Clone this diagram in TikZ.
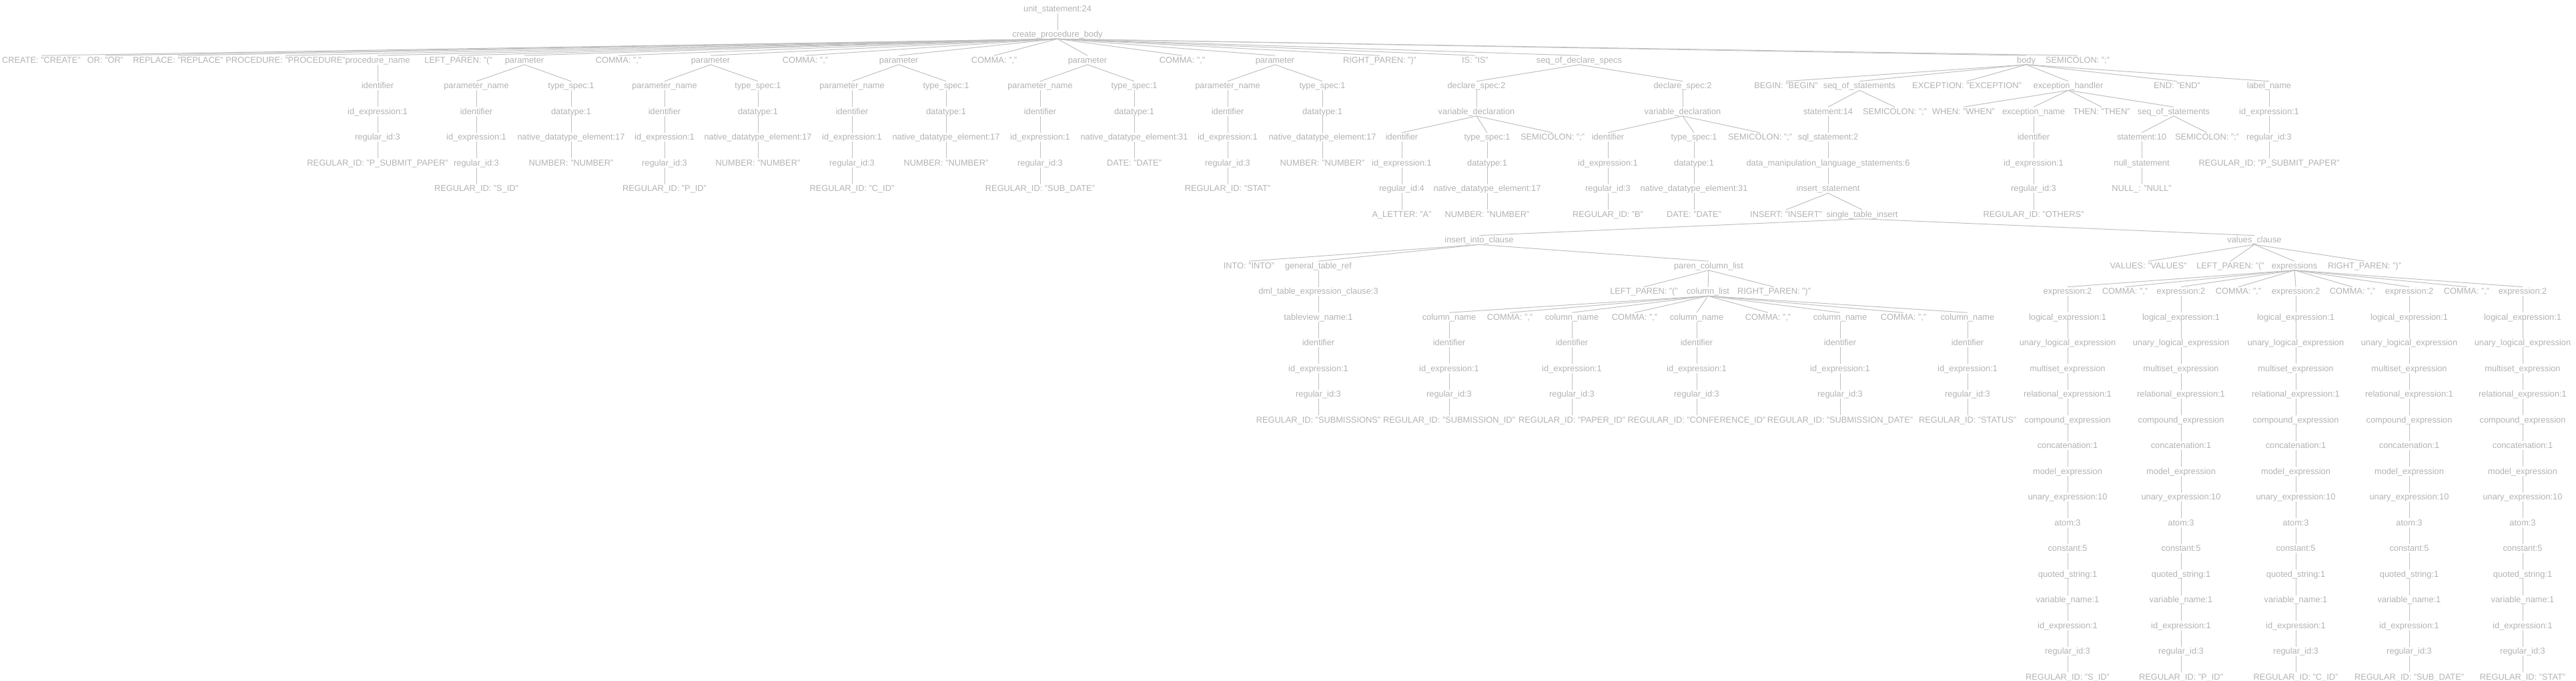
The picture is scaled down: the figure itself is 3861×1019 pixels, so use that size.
\documentclass[tikz,border=0pt]{standalone}
\usepackage{fontspec}
\setmainfont{Liberation Sans}
\usetikzlibrary{positioning}
\definecolor{TreeGray}{RGB}{178,178,178}
\definecolor{EdgeGray}{RGB}{192,192,192}
\tikzset{
  tok/.style={anchor=base, text=TreeGray, font=\fontsize{6.4}{7.7}\selectfont,
    inner xsep=0pt, inner ysep=0.6pt, text height=4.6pt, text depth=0.6pt},
  link/.style={draw=EdgeGray, line width=0.5pt}
}
% one tree node: name, x (px), level, text
\newcommand{\tnd}[4]{\node[tok] (#1) at (#2,{17+38.5*#3}) {#4};}

\begin{document}
\begin{tikzpicture}[x=0.5pt, y=-0.5pt]
\useasboundingbox (0,0) rectangle (3861,1019);

% top
\tnd{root}{1585}{0}{unit\_statement:24}
\tnd{cpb}{1585}{1}{create\_procedure\_body}
\tnd{kcreate}{62}{2}{CREATE: "CREATE"}
\tnd{kor}{158}{2}{OR: "OR"}
\tnd{krepl}{267}{2}{REPLACE: "REPLACE"}
\tnd{kproc}{428}{2}{PROCEDURE: "PROCEDURE"}
\tnd{pname}{566}{2}{procedure\_name}
\tnd{lpar}{687}{2}{LEFT\_PAREN: "("}
\tnd{parA}{786}{2}{parameter}
\tnd{cmA}{927}{2}{COMMA: ","}
\tnd{parB}{1065}{2}{parameter}
\tnd{cmB}{1207}{2}{COMMA: ","}
\tnd{parC}{1347}{2}{parameter}
\tnd{cmC}{1490}{2}{COMMA: ","}
\tnd{parD}{1630}{2}{parameter}
\tnd{cmD}{1772}{2}{COMMA: ","}
\tnd{parE}{1911}{2}{parameter}
\tnd{rpar}{2068}{2}{RIGHT\_PAREN: ")"}
\tnd{kis}{2211}{2}{IS: "IS"}
\tnd{decls}{2367}{2}{seq\_of\_declare\_specs}
\tnd{body}{3037}{2}{body}
\tnd{semi}{3114}{2}{SEMICOLON: ";"}

% procedure name
\tnd{pnid}{566}{3}{identifier}
\tnd{pnide}{566}{4}{id\_expression:1}
\tnd{pnrid}{566}{5}{regular\_id:3}
\tnd{pnreg}{566}{6}{REGULAR\_ID: "P\_SUBMIT\_PAPER"}

% parameters
\foreach \p/\xa/\xb/\nde/\ty/\rid in {A/714/856/17/NUMBER/S\_ID, B/996/1136/17/NUMBER/P\_ID,
    C/1277/1418/17/NUMBER/C\_ID, D/1559/1700/31/DATE/SUB\_DATE, E/1840/1982/17/NUMBER/STAT}{
  \tnd{pn\p}{\xa}{3}{parameter\_name}
  \tnd{id\p}{\xa}{4}{identifier}
  \tnd{ide\p}{\xa}{5}{id\_expression:1}
  \tnd{rid\p}{\xa}{6}{regular\_id:3}
  \tnd{reg\p}{\xa}{7}{REGULAR\_ID: "\rid"}
  \tnd{ts\p}{\xb}{3}{type\_spec:1}
  \tnd{dt\p}{\xb}{4}{datatype:1}
  \tnd{nd\p}{\xb}{5}{native\_datatype\_element:\nde}
  \tnd{num\p}{\xb}{6}{\ty: "\ty"}
  \foreach \a/\b in {par\p/pn\p, par\p/ts\p, pn\p/id\p, id\p/ide\p, ide\p/rid\p, rid\p/reg\p,
      ts\p/dt\p, dt\p/nd\p, nd\p/num\p}
    \draw[link] (\a.south) -- (\b.north);
}

% declarations
\tnd{dsA}{2213}{3}{declare\_spec:2}
\tnd{dsB}{2522}{3}{declare\_spec:2}
\tnd{vdA}{2213}{4}{variable\_declaration}
\tnd{vdB}{2522}{4}{variable\_declaration}
\tnd{vidA}{2101}{5}{identifier}
\tnd{vtsA}{2229}{5}{type\_spec:1}
\tnd{vsemiA}{2327}{5}{SEMICOLON: ";"}
\tnd{vidB}{2410}{5}{identifier}
\tnd{vtsB}{2539}{5}{type\_spec:1}
\tnd{vsemiB}{2638}{5}{SEMICOLON: ";"}
\tnd{videA}{2101}{6}{id\_expression:1}
\tnd{vdtA}{2229}{6}{datatype:1}
\tnd{videB}{2410}{6}{id\_expression:1}
\tnd{vdtB}{2539}{6}{datatype:1}
\tnd{vridA}{2101}{7}{regular\_id:4}
\tnd{vndA}{2229}{7}{native\_datatype\_element:17}
\tnd{vridB}{2410}{7}{regular\_id:3}
\tnd{vndB}{2539}{7}{native\_datatype\_element:31}
\tnd{aletter}{2101}{8}{A\_LETTER: "A"}
\tnd{vnumA}{2229}{8}{NUMBER: "NUMBER"}
\tnd{regB}{2410}{8}{REGULAR\_ID: "B"}
\tnd{vdate}{2539}{8}{DATE: "DATE"}

% body
\tnd{kbegin}{2677}{3}{BEGIN: "BEGIN"}
\tnd{sos}{2787}{3}{seq\_of\_statements}
\tnd{kexc}{2948}{3}{EXCEPTION: "EXCEPTION"}
\tnd{exh}{3100}{3}{exception\_handler}
\tnd{kend}{3263}{3}{END: "END"}
\tnd{lname}{3401}{3}{label\_name}
\tnd{stA}{2740}{4}{statement:14}
\tnd{sosSemi}{2840}{4}{SEMICOLON: ";"}
\tnd{kwhen}{2943}{4}{WHEN: "WHEN"}
\tnd{exn}{3048}{4}{exception\_name}
\tnd{kthen}{3150}{4}{THEN: "THEN"}
\tnd{sosB}{3258}{4}{seq\_of\_statements}
\tnd{lnide}{3401}{4}{id\_expression:1}
\tnd{sqls}{2740}{5}{sql\_statement:2}
\tnd{exnid}{3048}{5}{identifier}
\tnd{stB}{3210}{5}{statement:10}
\tnd{sosBSemi}{3308}{5}{SEMICOLON: ";"}
\tnd{lnrid}{3401}{5}{regular\_id:3}
\tnd{dml}{2740}{6}{data\_manipulation\_language\_statements:6}
\tnd{exnide}{3048}{6}{id\_expression:1}
\tnd{nullst}{3210}{6}{null\_statement}
\tnd{lnreg}{3401}{6}{REGULAR\_ID: "P\_SUBMIT\_PAPER"}
\tnd{ins}{2740}{7}{insert\_statement}
\tnd{exnrid}{3048}{7}{regular\_id:3}
\tnd{knull}{3210}{7}{NULL\_: "NULL"}
\tnd{kinsert}{2677}{8}{INSERT: "INSERT"}
\tnd{sti}{2791}{8}{single\_table\_insert}
\tnd{others}{3048}{8}{REGULAR\_ID: "OTHERS"}

% insert
\tnd{iic}{2217}{9}{insert\_into\_clause}
\tnd{vals}{3379}{9}{values\_clause}
\tnd{kinto}{1872}{10}{INTO: "INTO"}
\tnd{gtr}{1976}{10}{general\_table\_ref}
\tnd{pcl}{2561}{10}{paren\_column\_list}
\tnd{kvalues}{3220}{10}{VALUES: "VALUES"}
\tnd{vlpar}{3343}{10}{LEFT\_PAREN: "("}
\tnd{exprs}{3439}{10}{expressions}
\tnd{vrpar}{3544}{10}{RIGHT\_PAREN: ")"}
\tnd{dmltec}{1976}{11}{dml\_table\_expression\_clause:3}
\tnd{clpar}{2464}{11}{LEFT\_PAREN: "("}
\tnd{clist}{2560}{11}{column\_list}
\tnd{crpar}{2659}{11}{RIGHT\_PAREN: ")"}
\tnd{ec1}{3185}{11}{COMMA: ","}
\tnd{ec2}{3355}{11}{COMMA: ","}
\tnd{ec3}{3526}{11}{COMMA: ","}
\tnd{ec4}{3697}{11}{COMMA: ","}
\tnd{tvn}{1976}{12}{tableview\_name:1}
\tnd{tvid}{1976}{13}{identifier}
\tnd{tvide}{1976}{14}{id\_expression:1}
\tnd{tvrid}{1976}{15}{regular\_id:3}
\tnd{tvreg}{1976}{16}{REGULAR\_ID: "SUBMISSIONS"}
\tnd{cc1}{2263}{12}{COMMA: ","}
\tnd{cc2}{2450}{12}{COMMA: ","}
\tnd{cc3}{2650}{12}{COMMA: ","}
\tnd{cc4}{2853}{12}{COMMA: ","}

% columns
\foreach \col/\x/\rv in {1/2172/SUBMISSION\_ID, 2/2356/PAPER\_ID, 3/2543/CONFERENCE\_ID,
    4/2758/SUBMISSION\_DATE, 5/2949/STATUS}{
  \foreach \L/\lbl in {12/column\_name, 13/identifier, 14/id\_expression:1, 15/regular\_id:3,
      16/REGULAR\_ID: "\rv"}
    {\tnd{cn\col-\L}{\x}{\L}{\lbl}}
  \foreach \L in {12,...,15}{
    \pgfmathtruncatemacro{\M}{\L+1}
    \draw[link] (cn\col-\L.south) -- (cn\col-\M.north);
  }
}

% values
\foreach \col/\x/\rv in {1/3099/S\_ID, 2/3269/P\_ID, 3/3441/C\_ID, 4/3611/SUB\_DATE, 5/3781/STAT}{
  \foreach \L/\lbl in {11/expression:2, 12/logical\_expression:1, 13/unary\_logical\_expression,
      14/multiset\_expression, 15/relational\_expression:1, 16/compound\_expression,
      17/concatenation:1, 18/model\_expression, 19/unary\_expression:10, 20/atom:3,
      21/constant:5, 22/quoted\_string:1, 23/variable\_name:1, 24/id\_expression:1,
      25/regular\_id:3, 26/REGULAR\_ID: "\rv"}
    {\tnd{ex\col-\L}{\x}{\L}{\lbl}}
  \foreach \L in {11,...,25}{
    \pgfmathtruncatemacro{\M}{\L+1}
    \draw[link] (ex\col-\L.south) -- (ex\col-\M.north);
  }
}

% edges
\foreach \a/\b in {root/cpb, cpb/kcreate, cpb/kor, cpb/krepl, cpb/kproc, cpb/pname, cpb/lpar,
    cpb/parA, cpb/cmA, cpb/parB, cpb/cmB, cpb/parC, cpb/cmC, cpb/parD, cpb/cmD, cpb/parE,
    cpb/rpar, cpb/kis, cpb/decls, cpb/body, cpb/semi,
    pname/pnid, pnid/pnide, pnide/pnrid, pnrid/pnreg,
    decls/dsA, decls/dsB, dsA/vdA, dsB/vdB, vdA/vidA, vdA/vtsA, vdA/vsemiA,
    vdB/vidB, vdB/vtsB, vdB/vsemiB, vidA/videA, vtsA/vdtA, vidB/videB, vtsB/vdtB,
    videA/vridA, vdtA/vndA, videB/vridB, vdtB/vndB, vridA/aletter, vndA/vnumA,
    vridB/regB, vndB/vdate,
    body/kbegin, body/sos, body/kexc, body/exh, body/kend, body/lname,
    sos/stA, sos/sosSemi, stA/sqls, sqls/dml, dml/ins, ins/kinsert, ins/sti,
    exh/kwhen, exh/exn, exh/kthen, exh/sosB, exn/exnid, exnid/exnide, exnide/exnrid,
    exnrid/others, sosB/stB, sosB/sosBSemi, stB/nullst, nullst/knull,
    lname/lnide, lnide/lnrid, lnrid/lnreg,
    sti/iic, sti/vals, iic/kinto, iic/gtr, iic/pcl, gtr/dmltec, dmltec/tvn,
    tvn/tvid, tvid/tvide, tvide/tvrid, tvrid/tvreg,
    pcl/clpar, pcl/clist, pcl/crpar, clist/cn1-12, clist/cc1, clist/cn2-12, clist/cc2,
    clist/cn3-12, clist/cc3, clist/cn4-12, clist/cc4, clist/cn5-12,
    vals/kvalues, vals/vlpar, vals/exprs, vals/vrpar, exprs/ex1-11, exprs/ec1,
    exprs/ex2-11, exprs/ec2, exprs/ex3-11, exprs/ec3, exprs/ex4-11, exprs/ec4, exprs/ex5-11}
  \draw[link] (\a.south) -- (\b.north);
\end{tikzpicture}
\end{document}
